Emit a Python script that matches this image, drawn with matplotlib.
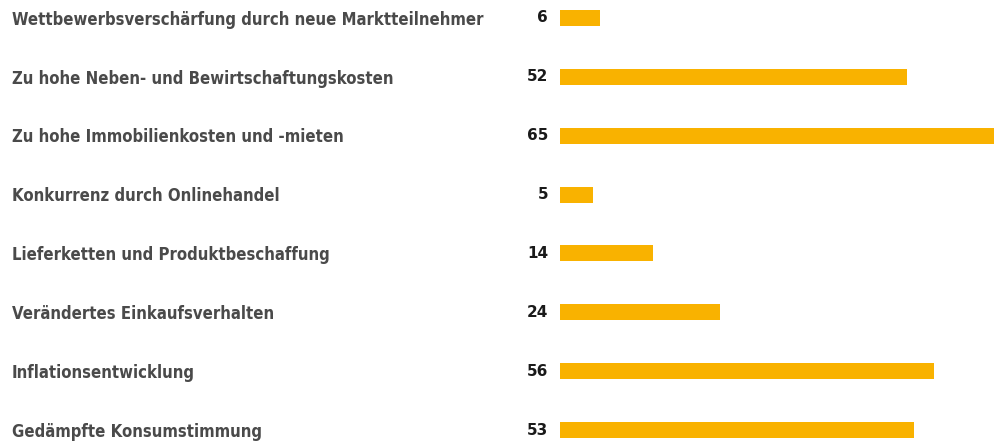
import numpy as np
import matplotlib
matplotlib.use('Agg')
import matplotlib.pyplot as plt
from matplotlib.transforms import blended_transform_factory

# Data
categories = [
    'Wettbewerbsverschärfung durch neue Marktteilnehmer',
    'Zu hohe Neben- und Bewirtschaftungskosten',
    'Zu hohe Immobilienkosten und -mieten',
    'Konkurrenz durch Onlinehandel',
    'Lieferketten und Produktbeschaffung',
    'Verändertes Einkaufsverhalten',
    'Inflationsentwicklung',
    'Gedämpfte Konsumstimmung',
]
values = [6, 52, 65, 5, 14, 24, 56, 53]

BAR_COLOR = '#F9B200'
LABEL_COLOR = '#4a4a4a'

fig = plt.figure(figsize=(9.94, 4.42), dpi=100)
ax = fig.add_axes([560 / 994, 0, 1 - 560 / 994, 1])

y = np.arange(len(categories))
ax.barh(y, values, height=16 / 58.9, color=BAR_COLOR)
ax.set_xlim(0, 65)
ax.set_ylim(7 + 12 / 58.9, -18 / 58.9)
ax.axis('off')

trans = blended_transform_factory(fig.transFigure, ax.transData)
for yi, cat, val in zip(y, categories, values):
    ax.text(12 / 994, yi + 0.03, cat, transform=trans, ha='left', va='center',
            fontsize=12, fontweight='bold', color=LABEL_COLOR,
            fontstretch='condensed', clip_on=False)
    ax.text(548 / 994, yi, str(val), transform=trans, ha='right', va='center',
            fontsize=11, fontweight='bold', color='#1a1a1a', clip_on=False)

fig.savefig('out.png', dpi=100)
